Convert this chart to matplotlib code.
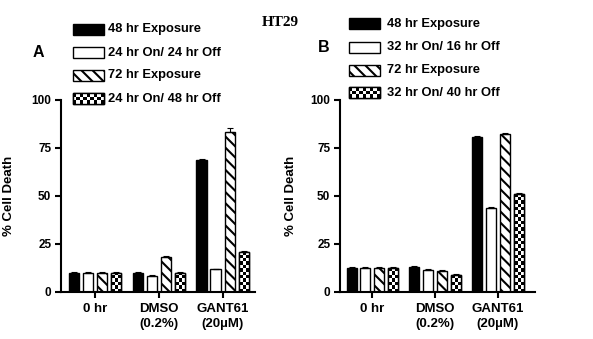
import numpy as np
import matplotlib
matplotlib.use('Agg')
import matplotlib.pyplot as plt
from matplotlib.patches import Rectangle

plt.rcParams['font.family'] = ['Liberation Sans', 'DejaVu Sans']
plt.rcParams['font.weight'] = 'bold'
plt.rcParams['axes.labelweight'] = 'bold'
plt.rcParams['hatch.linewidth'] = 1.5

# data
groups = ['0 hr', 'DMSO\n(0.2%)', 'GANT61\n(20µM)']
a_labels = ['48 hr Exposure', '24 hr On/ 24 hr Off', '72 hr Exposure', '24 hr On/ 48 hr Off']
b_labels = ['48 hr Exposure', '32 hr On/ 16 hr Off', '72 hr Exposure', '32 hr On/ 40 hr Off']

a_48 = [9.6, 9.8, 68.6]
a_on24 = [9.6, 8.2, 11.6]
a_72 = [9.6, 18.0, 83.2]
a_on48 = [9.6, 9.8, 20.8]
a_err = [[0.4, 0.4, 0.4], [0.4, 0.4, 0.4], [0.4, 0.4, 1.8], [0.4, 0.4, 0.4]]

b_48 = [12.4, 12.8, 80.9]
b_on16 = [12.4, 11.4, 43.6]
b_72 = [12.4, 11.0, 82.4]
b_on40 = [12.4, 8.8, 51.1]
b_err = [[0.4, 0.4, 0.4], [0.4, 0.4, 0.4], [0.4, 0.4, 0.4], [0.4, 0.4, 0.4]]

styles = ['black', 'white', 'hatch', 'check']
W, H = 593, 339


def checker_img(nrows, ncols):
    return np.indices((nrows, ncols)).sum(0) % 2


def fill_checker(ax, bar, cell_px=3.4):
    bb = ax.get_window_extent()
    x0, x1 = ax.get_xlim()
    y0, y1 = ax.get_ylim()
    ppx = bb.width / (x1 - x0)
    ppy = bb.height / (y1 - y0)
    w = bar.get_width()
    h = bar.get_height()
    ncols = max(1, int(round(w * ppx / cell_px)))
    cell_h = cell_px / ppy
    nrows = int(np.ceil(h / cell_h))
    im = ax.imshow(checker_img(nrows, ncols), cmap='gray', origin='lower',
                   extent=(bar.get_x(), bar.get_x() + w, 0, nrows * cell_h),
                   interpolation='nearest', aspect='auto', zorder=2.2)
    im.set_clip_path(bar)


def draw_panel(ax, series, errs, xlim):
    x = np.arange(len(groups))
    width = 0.16
    step = 0.22
    offsets = (np.arange(4) - 1.5) * step
    ax.set_xlim(xlim)
    ax.set_ylim(0, 100)
    for i, (vals, err) in enumerate(zip(series, errs)):
        xs = x + offsets[i]
        st = styles[i]
        fc = 'black' if st == 'black' else 'white'
        hatch = '\\\\\\' if st == 'hatch' else None
        bars = ax.bar(xs, vals, width, color=fc, edgecolor='black', linewidth=1.0,
                      hatch=hatch, zorder=2)
        if st == 'check':
            for b in bars:
                fill_checker(ax, b)
            ax.bar(xs, vals, width, fill=False, edgecolor='black', linewidth=1.0, zorder=2.5)
        ax.errorbar(xs, np.array(vals), yerr=[np.zeros(3), err], fmt='none', ecolor='black',
                    elinewidth=0.8, capsize=2, capthick=0.8, zorder=3)
    ax.set_xlim(xlim)
    ax.set_ylim(0, 100)
    ax.spines['top'].set_visible(False)
    ax.spines['right'].set_visible(False)
    ax.spines['left'].set_linewidth(1.5)
    ax.spines['bottom'].set_linewidth(1.5)
    ax.set_yticks([0, 25, 50, 75, 100])
    ax.set_xticks(x)
    ax.set_xticklabels(groups, fontsize=9.5, linespacing=1.3)
    ax.tick_params(axis='y', length=4, width=1.5, pad=3, labelsize=8.5)
    ax.tick_params(axis='x', length=4, width=1.5, pad=4)
    ax.set_ylabel('% Cell Death', fontsize=9.5)


def draw_legend(lax, x, yc_list, tx, labels):
    sw, sh = 31, 11
    for st, yc, lab in zip(styles, yc_list, labels):
        fc = 'black' if st == 'black' else 'white'
        hatch = '\\\\\\' if st == 'hatch' else None
        r = Rectangle((x, yc - sh / 2), sw, sh, facecolor=fc, edgecolor='black',
                      linewidth=1.0, hatch=hatch, zorder=2)
        lax.add_patch(r)
        if st == 'check':
            im = lax.imshow(checker_img(3, 9), cmap='gray', origin='lower',
                            extent=(x, x + sw, yc + sh / 2, yc - sh / 2),
                            interpolation='nearest', aspect='auto', zorder=2.2)
            im.set_clip_path(r)
            lax.add_patch(Rectangle((x, yc - sh / 2), sw, sh, fill=False,
                                    edgecolor='black', linewidth=1.0, zorder=2.5))
        lax.text(tx, yc, lab, fontsize=9.3, ha='left', va='center')


fig = plt.figure(figsize=(W / 100, H / 100), dpi=100)
ax_a = fig.add_axes([61 / W, 1 - 291.7 / H, 194 / W, 192.2 / H])
ax_b = fig.add_axes([340 / W, 1 - 291.7 / H, 195 / W, 191.7 / H])

draw_panel(ax_a, [a_48, a_on24, a_72, a_on48], a_err, (-0.533, 2.508))
draw_panel(ax_b, [b_48, b_on16, b_72, b_on40], b_err, (-0.514, 2.589))
ax_a.yaxis.set_label_coords(-0.237, 0.5)
ax_b.yaxis.set_label_coords(-0.22, 0.5)

lax = fig.add_axes([0, 0, 1, 1])
lax.set_xlim(0, W)
lax.set_ylim(H, 0)
lax.axis('off')
draw_legend(lax, 73, [29, 52.5, 75, 98.5], 108, a_labels)
draw_legend(lax, 349, [23.5, 47.5, 70, 92.5], 387, b_labels)
lax.set_xlim(0, W)
lax.set_ylim(H, 0)

fig.text(38 / W, 1 - 52.5 / H, 'A', fontsize=11.5, ha='center', va='center')
fig.text(324 / W, 1 - 47.5 / H, 'B', fontsize=11.5, ha='center', va='center')
fig.text(280 / W, 1 - 22.5 / H, 'HT29', fontsize=11, ha='center', va='center',
         family=['Liberation Serif', 'DejaVu Serif'])

fig.savefig('out.png', dpi=100)
